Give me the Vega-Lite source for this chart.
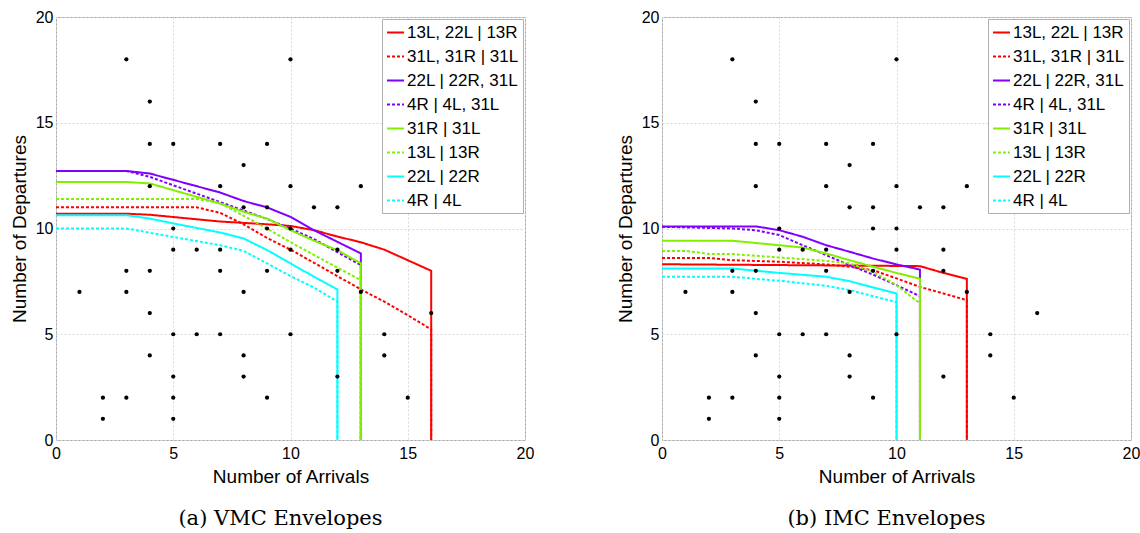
{
  "$schema": "https://vega.github.io/schema/vega-lite/v6.json",
  "background": "white",
  "padding": {"left": 9, "top": 8, "right": 5, "bottom": 5},
  "spacing": 80,
  "datasets": {
    "pts": [
      {"a":3,"d":18},{"a":10,"d":18},{"a":4,"d":16},{"a":4,"d":14},{"a":5,"d":14},{"a":7,"d":14},{"a":9,"d":14},
      {"a":8,"d":13},{"a":4,"d":12},{"a":7,"d":12},{"a":10,"d":12},{"a":13,"d":12},{"a":8,"d":11},{"a":9,"d":11},
      {"a":11,"d":11},{"a":12,"d":11},{"a":5,"d":10},{"a":9,"d":10},{"a":10,"d":10},{"a":5,"d":9},{"a":6,"d":9},
      {"a":7,"d":9},{"a":10,"d":9},{"a":12,"d":9},{"a":3,"d":8},{"a":4,"d":8},{"a":7,"d":8},{"a":9,"d":8},{"a":12,"d":8},
      {"a":1,"d":7},{"a":3,"d":7},{"a":8,"d":7},{"a":13,"d":7},{"a":4,"d":6},{"a":16,"d":6},{"a":5,"d":5},{"a":6,"d":5},
      {"a":7,"d":5},{"a":10,"d":5},{"a":14,"d":5},{"a":4,"d":4},{"a":8,"d":4},{"a":14,"d":4},{"a":5,"d":3},{"a":8,"d":3},
      {"a":12,"d":3},{"a":2,"d":2},{"a":3,"d":2},{"a":5,"d":2},{"a":9,"d":2},{"a":15,"d":2},{"a":2,"d":1},{"a":5,"d":1}
    ],
    "vmc": [
      {"s":"13L, 22L | 13R","i":0,"x":0,"y":10.7},{"s":"13L, 22L | 13R","i":1,"x":3,"y":10.7},{"s":"13L, 22L | 13R","i":2,"x":4,"y":10.65},
      {"s":"13L, 22L | 13R","i":3,"x":7,"y":10.33},{"s":"13L, 22L | 13R","i":4,"x":9,"y":10.2},{"s":"13L, 22L | 13R","i":5,"x":10,"y":10.12},
      {"s":"13L, 22L | 13R","i":6,"x":11,"y":9.92},{"s":"13L, 22L | 13R","i":7,"x":12,"y":9.62},{"s":"13L, 22L | 13R","i":8,"x":13,"y":9.35},
      {"s":"13L, 22L | 13R","i":9,"x":14,"y":9.0},{"s":"13L, 22L | 13R","i":10,"x":15,"y":8.5},{"s":"13L, 22L | 13R","i":11,"x":16,"y":8.0},
      {"s":"13L, 22L | 13R","i":12,"x":16,"y":0},
      {"s":"31L, 31R | 31L","i":0,"x":0,"y":11.0},{"s":"31L, 31R | 31L","i":1,"x":6,"y":11.0},{"s":"31L, 31R | 31L","i":2,"x":7,"y":10.74},
      {"s":"31L, 31R | 31L","i":3,"x":8,"y":10.2},{"s":"31L, 31R | 31L","i":4,"x":9,"y":9.55},{"s":"31L, 31R | 31L","i":5,"x":10,"y":9.0},
      {"s":"31L, 31R | 31L","i":6,"x":11,"y":8.38},{"s":"31L, 31R | 31L","i":7,"x":12,"y":7.75},{"s":"31L, 31R | 31L","i":8,"x":13,"y":7.12},
      {"s":"31L, 31R | 31L","i":9,"x":14,"y":6.54},{"s":"31L, 31R | 31L","i":10,"x":15,"y":5.9},{"s":"31L, 31R | 31L","i":11,"x":16,"y":5.23},
      {"s":"31L, 31R | 31L","i":12,"x":16,"y":0},
      {"s":"22L | 22R, 31L","i":0,"x":0,"y":12.72},{"s":"22L | 22R, 31L","i":1,"x":3,"y":12.72},{"s":"22L | 22R, 31L","i":2,"x":4,"y":12.6},
      {"s":"22L | 22R, 31L","i":3,"x":7,"y":11.7},{"s":"22L | 22R, 31L","i":4,"x":8,"y":11.3},{"s":"22L | 22R, 31L","i":5,"x":9,"y":11.0},
      {"s":"22L | 22R, 31L","i":6,"x":10,"y":10.55},{"s":"22L | 22R, 31L","i":7,"x":11,"y":9.92},{"s":"22L | 22R, 31L","i":8,"x":12,"y":9.37},
      {"s":"22L | 22R, 31L","i":9,"x":13,"y":8.82},{"s":"22L | 22R, 31L","i":10,"x":13,"y":0},
      {"s":"4R | 4L, 31L","i":0,"x":0,"y":12.72},{"s":"4R | 4L, 31L","i":1,"x":3,"y":12.72},{"s":"4R | 4L, 31L","i":2,"x":4,"y":12.44},
      {"s":"4R | 4L, 31L","i":3,"x":7,"y":11.25},{"s":"4R | 4L, 31L","i":4,"x":9,"y":10.45},{"s":"4R | 4L, 31L","i":5,"x":10,"y":10.0},
      {"s":"4R | 4L, 31L","i":6,"x":11,"y":9.5},{"s":"4R | 4L, 31L","i":7,"x":12,"y":8.88},{"s":"4R | 4L, 31L","i":8,"x":13,"y":8.27},
      {"s":"4R | 4L, 31L","i":9,"x":13,"y":0},
      {"s":"31R | 31L","i":0,"x":0,"y":12.2},{"s":"31R | 31L","i":1,"x":3,"y":12.2},{"s":"31R | 31L","i":2,"x":4,"y":12.13},
      {"s":"31R | 31L","i":3,"x":7,"y":11.18},{"s":"31R | 31L","i":4,"x":8,"y":10.79},{"s":"31R | 31L","i":5,"x":9,"y":10.47},
      {"s":"31R | 31L","i":6,"x":10,"y":9.92},{"s":"31R | 31L","i":7,"x":11,"y":9.42},{"s":"31R | 31L","i":8,"x":12,"y":8.98},
      {"s":"31R | 31L","i":9,"x":13,"y":8.35},{"s":"31R | 31L","i":10,"x":13,"y":0},
      {"s":"13L | 13R","i":0,"x":0,"y":11.4},{"s":"13L | 13R","i":1,"x":6,"y":11.4},{"s":"13L | 13R","i":2,"x":7,"y":11.2},
      {"s":"13L | 13R","i":3,"x":8,"y":10.6},{"s":"13L | 13R","i":4,"x":9,"y":10.0},{"s":"13L | 13R","i":5,"x":10,"y":9.35},
      {"s":"13L | 13R","i":6,"x":11,"y":8.75},{"s":"13L | 13R","i":7,"x":12,"y":8.15},{"s":"13L | 13R","i":8,"x":13,"y":7.56},
      {"s":"13L | 13R","i":9,"x":13,"y":0},
      {"s":"22L | 22R","i":0,"x":0,"y":10.63},{"s":"22L | 22R","i":1,"x":3,"y":10.63},{"s":"22L | 22R","i":2,"x":4,"y":10.47},
      {"s":"22L | 22R","i":3,"x":5,"y":10.24},{"s":"22L | 22R","i":4,"x":7,"y":9.81},{"s":"22L | 22R","i":5,"x":8,"y":9.53},
      {"s":"22L | 22R","i":6,"x":9,"y":8.98},{"s":"22L | 22R","i":7,"x":10,"y":8.35},{"s":"22L | 22R","i":8,"x":11,"y":7.72},
      {"s":"22L | 22R","i":9,"x":12,"y":7.12},{"s":"22L | 22R","i":10,"x":12,"y":0},
      {"s":"4R | 4L","i":0,"x":0,"y":10.0},{"s":"4R | 4L","i":1,"x":3,"y":10.0},{"s":"4R | 4L","i":2,"x":5,"y":9.6},
      {"s":"4R | 4L","i":3,"x":7,"y":9.21},{"s":"4R | 4L","i":4,"x":8,"y":8.94},{"s":"4R | 4L","i":5,"x":9,"y":8.35},
      {"s":"4R | 4L","i":6,"x":10,"y":7.75},{"s":"4R | 4L","i":7,"x":11,"y":7.21},{"s":"4R | 4L","i":8,"x":12,"y":6.54},
      {"s":"4R | 4L","i":9,"x":12,"y":0}
    ],
    "imc": [
      {"s":"13L, 22L | 13R","i":0,"x":0,"y":8.31},{"s":"13L, 22L | 13R","i":1,"x":9,"y":8.24},{"s":"13L, 22L | 13R","i":2,"x":11,"y":8.22},
      {"s":"13L, 22L | 13R","i":3,"x":12,"y":7.9},{"s":"13L, 22L | 13R","i":4,"x":13,"y":7.62},{"s":"13L, 22L | 13R","i":5,"x":13,"y":0},
      {"s":"31L, 31R | 31L","i":0,"x":0,"y":8.61},{"s":"31L, 31R | 31L","i":1,"x":2,"y":8.61},{"s":"31L, 31R | 31L","i":2,"x":3,"y":8.5},
      {"s":"31L, 31R | 31L","i":3,"x":5,"y":8.43},{"s":"31L, 31R | 31L","i":4,"x":7,"y":8.3},{"s":"31L, 31R | 31L","i":5,"x":8,"y":8.19},
      {"s":"31L, 31R | 31L","i":6,"x":9,"y":8.03},{"s":"31L, 31R | 31L","i":7,"x":10,"y":7.64},{"s":"31L, 31R | 31L","i":8,"x":11,"y":7.24},
      {"s":"31L, 31R | 31L","i":9,"x":12,"y":6.93},{"s":"31L, 31R | 31L","i":10,"x":13,"y":6.61},{"s":"31L, 31R | 31L","i":11,"x":13,"y":0},
      {"s":"22L | 22R, 31L","i":0,"x":0,"y":10.1},{"s":"22L | 22R, 31L","i":1,"x":4,"y":10.1},{"s":"22L | 22R, 31L","i":2,"x":5,"y":9.92},
      {"s":"22L | 22R, 31L","i":3,"x":6,"y":9.61},{"s":"22L | 22R, 31L","i":4,"x":7,"y":9.21},{"s":"22L | 22R, 31L","i":5,"x":8,"y":8.9},
      {"s":"22L | 22R, 31L","i":6,"x":9,"y":8.58},{"s":"22L | 22R, 31L","i":7,"x":10,"y":8.3},{"s":"22L | 22R, 31L","i":8,"x":11,"y":8.06},
      {"s":"22L | 22R, 31L","i":9,"x":11,"y":0},
      {"s":"4R | 4L, 31L","i":0,"x":0,"y":10.08},{"s":"4R | 4L, 31L","i":1,"x":3,"y":10.0},{"s":"4R | 4L, 31L","i":2,"x":4,"y":9.92},
      {"s":"4R | 4L, 31L","i":3,"x":5,"y":9.69},{"s":"4R | 4L, 31L","i":4,"x":6,"y":9.21},{"s":"4R | 4L, 31L","i":5,"x":7,"y":8.74},
      {"s":"4R | 4L, 31L","i":6,"x":8,"y":8.27},{"s":"4R | 4L, 31L","i":7,"x":9,"y":7.82},{"s":"4R | 4L, 31L","i":8,"x":10,"y":7.32},
      {"s":"4R | 4L, 31L","i":9,"x":11,"y":6.8},{"s":"4R | 4L, 31L","i":10,"x":11,"y":0},
      {"s":"31R | 31L","i":0,"x":0,"y":9.42},{"s":"31R | 31L","i":1,"x":3,"y":9.42},{"s":"31R | 31L","i":2,"x":5,"y":9.21},
      {"s":"31R | 31L","i":3,"x":6,"y":9.1},{"s":"31R | 31L","i":4,"x":7,"y":8.82},{"s":"31R | 31L","i":5,"x":8,"y":8.5},
      {"s":"31R | 31L","i":6,"x":9,"y":8.19},{"s":"31R | 31L","i":7,"x":10,"y":7.9},{"s":"31R | 31L","i":8,"x":11,"y":7.62},
      {"s":"31R | 31L","i":9,"x":11,"y":0},
      {"s":"13L | 13R","i":0,"x":0,"y":8.94},{"s":"13L | 13R","i":1,"x":1,"y":8.94},{"s":"13L | 13R","i":2,"x":2,"y":8.8},
      {"s":"13L | 13R","i":3,"x":3,"y":8.79},{"s":"13L | 13R","i":4,"x":5,"y":8.63},{"s":"13L | 13R","i":5,"x":7,"y":8.47},
      {"s":"13L | 13R","i":6,"x":8,"y":8.35},{"s":"13L | 13R","i":7,"x":9,"y":7.95},{"s":"13L | 13R","i":8,"x":10,"y":7.32},
      {"s":"13L | 13R","i":9,"x":11,"y":6.46},{"s":"13L | 13R","i":10,"x":11,"y":0},
      {"s":"22L | 22R","i":0,"x":0,"y":8.11},{"s":"22L | 22R","i":1,"x":3,"y":8.11},{"s":"22L | 22R","i":2,"x":5,"y":7.9},
      {"s":"22L | 22R","i":3,"x":7,"y":7.72},{"s":"22L | 22R","i":4,"x":8,"y":7.51},{"s":"22L | 22R","i":5,"x":9,"y":7.21},
      {"s":"22L | 22R","i":6,"x":10,"y":6.93},{"s":"22L | 22R","i":7,"x":10,"y":0},
      {"s":"4R | 4L","i":0,"x":0,"y":7.72},{"s":"4R | 4L","i":1,"x":3,"y":7.72},{"s":"4R | 4L","i":2,"x":4,"y":7.62},
      {"s":"4R | 4L","i":3,"x":5,"y":7.53},{"s":"4R | 4L","i":4,"x":7,"y":7.29},{"s":"4R | 4L","i":5,"x":8,"y":7.09},
      {"s":"4R | 4L","i":6,"x":9,"y":6.8},{"s":"4R | 4L","i":7,"x":10,"y":6.52},{"s":"4R | 4L","i":8,"x":10,"y":0}
    ]
  },
  "resolve": {"scale": {"color": "independent", "strokeDash": "independent"}, "legend": {"color": "independent", "strokeDash": "independent"}},
  "hconcat": [
    {
      "width": 469, "height": 423,
      "title": {"text": "(a) VMC Envelopes"},
      "layer": [
        {
          "data": {"name": "vmc"},
          "mark": {"type": "line", "strokeWidth": 2},
          "encoding": {
            "x": {"field": "x", "type": "quantitative", "scale": {"domain": [0, 20], "nice": false}, "axis": {"values": [0,5,10,15,20], "title": "Number of Arrivals"}},
            "y": {"field": "y", "type": "quantitative", "scale": {"domain": [0, 20], "nice": false}, "axis": {"values": [0,5,10,15,20], "title": "Number of Departures"}},
            "order": {"field": "i", "type": "quantitative"},
            "color": {"field": "s", "type": "nominal", "title": null,
              "scale": {"domain": ["13L, 22L | 13R","31L, 31R | 31L","22L | 22R, 31L","4R | 4L, 31L","31R | 31L","13L | 13R","22L | 22R","4R | 4L"],
                        "range": ["#ff0000","#ff0000","#8000ff","#8000ff","#80f000","#80f000","#00ffff","#00ffff"]}},
            "strokeDash": {"field": "s", "type": "nominal", "title": null,
              "scale": {"domain": ["13L, 22L | 13R","31L, 31R | 31L","22L | 22R, 31L","4R | 4L, 31L","31R | 31L","13L | 13R","22L | 22R","4R | 4L"],
                        "range": [[1,0],[3,2],[1,0],[3,2],[1,0],[3,2],[1,0],[3,2]]}}
          }
        },
        {
          "data": {"name": "pts"},
          "mark": {"type": "circle", "color": "black", "size": 18, "opacity": 1},
          "encoding": {
            "x": {"field": "a", "type": "quantitative"},
            "y": {"field": "d", "type": "quantitative"}
          }
        }
      ]
    },
    {
      "width": 469, "height": 423,
      "title": {"text": "(b) IMC Envelopes"},
      "layer": [
        {
          "data": {"name": "imc"},
          "mark": {"type": "line", "strokeWidth": 2},
          "encoding": {
            "x": {"field": "x", "type": "quantitative", "scale": {"domain": [0, 20], "nice": false}, "axis": {"values": [0,5,10,15,20], "title": "Number of Arrivals"}},
            "y": {"field": "y", "type": "quantitative", "scale": {"domain": [0, 20], "nice": false}, "axis": {"values": [0,5,10,15,20], "title": "Number of Departures"}},
            "order": {"field": "i", "type": "quantitative"},
            "color": {"field": "s", "type": "nominal", "title": null,
              "scale": {"domain": ["13L, 22L | 13R","31L, 31R | 31L","22L | 22R, 31L","4R | 4L, 31L","31R | 31L","13L | 13R","22L | 22R","4R | 4L"],
                        "range": ["#ff0000","#ff0000","#8000ff","#8000ff","#80f000","#80f000","#00ffff","#00ffff"]}},
            "strokeDash": {"field": "s", "type": "nominal", "title": null,
              "scale": {"domain": ["13L, 22L | 13R","31L, 31R | 31L","22L | 22R, 31L","4R | 4L, 31L","31R | 31L","13L | 13R","22L | 22R","4R | 4L"],
                        "range": [[1,0],[3,2],[1,0],[3,2],[1,0],[3,2],[1,0],[3,2]]}}
          }
        },
        {
          "data": {"name": "pts"},
          "mark": {"type": "circle", "color": "black", "size": 18, "opacity": 1},
          "encoding": {
            "x": {"field": "a", "type": "quantitative"},
            "y": {"field": "d", "type": "quantitative"}
          }
        }
      ]
    }
  ],
  "config": {
    "font": "Liberation Sans",
    "view": {"stroke": "#a8a8a8", "strokeWidth": 1},
    "axis": {
      "domain": false, "ticks": false, "grid": true, "gridColor": "#d8d8d8", "gridDash": [2, 2], "gridWidth": 1,
      "labelFont": "Liberation Sans", "labelFontSize": 16, "labelColor": "black", "labelFlush": false, "labelOverlap": false,
      "titleFont": "Liberation Sans", "titleFontSize": 19, "titleFontWeight": "normal", "titleColor": "black"
    },
    "axisX": {"labelPadding": 5, "titlePadding": 6},
    "axisY": {"labelPadding": 3, "titlePadding": 6},
    "legend": {
      "orient": "top-right", "offset": 2, "padding": 4, "strokeColor": "#b0b0b0", "fillColor": "white",
      "labelFont": "Liberation Sans", "labelFontSize": 17, "labelColor": "black", "labelOffset": 2,
      "symbolType": "stroke", "symbolSize": 289, "symbolStrokeWidth": 2, "rowPadding": 6, "labelLimit": 300
    },
    "title": {"orient": "bottom", "anchor": "middle", "frame": "group", "dx": -10, "offset": 22,
      "font": "DejaVu Serif", "fontSize": 21, "fontWeight": "normal", "color": "black"}
  }
}
